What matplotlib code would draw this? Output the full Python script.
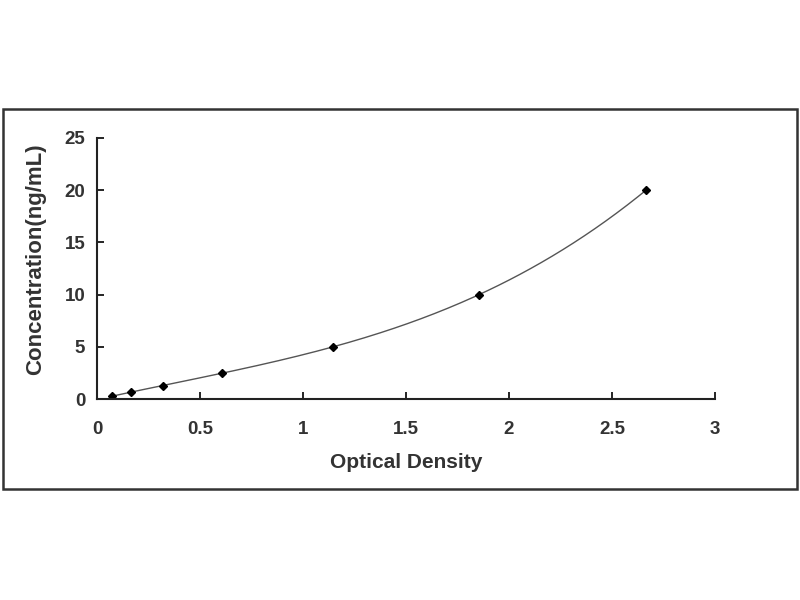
import numpy as np
import matplotlib
matplotlib.use("Agg")
import matplotlib.pyplot as plt
from matplotlib.patches import Rectangle

od = [0.075, 0.163, 0.318, 0.605, 1.148, 1.855, 2.665]
conc = [0.312, 0.625, 1.25, 2.5, 5, 10, 20]
xticks = [0, 0.5, 1, 1.5, 2, 2.5, 3]
xticklabels = ["0", "0.5", "1", "1.5", "2", "2.5", "3"]
yticks = [0, 5, 10, 15, 20, 25]
yticklabels = ["0", "5", "10", "15", "20", "25"]

plt.rcParams['font.family'] = ['Liberation Sans', 'DejaVu Sans']

fig = plt.figure(figsize=(8, 6), dpi=100)
fig.patch.set_facecolor("white")

# outer frame
fig.add_artist(Rectangle((3/800, 1-489/600), 794/800, 380/600, transform=fig.transFigure,
                         fill=False, edgecolor="#333333", linewidth=1.8))

ax = fig.add_axes([97/800, 1-399/600, 618/800, 261/600])
ax.set_xlim(0, 3)
ax.set_ylim(0, 25)

coef = np.polyfit(od, conc, 3)
xs = np.linspace(min(od), max(od), 200)
ax.plot(xs, np.polyval(coef, xs), color="#555555", linewidth=1.0)
ax.plot(od, conc, linestyle="none", marker="D", markersize=4, color="black")

for s in ["top", "right"]:
    ax.spines[s].set_visible(False)
for s in ["left", "bottom"]:
    ax.spines[s].set_linewidth(1.5)
    ax.spines[s].set_color("#222222")

ax.set_xticks(xticks)
ax.set_xticklabels(xticklabels, fontweight="bold", fontsize=13.5, color="#333333")
ax.set_yticks(yticks)
ax.set_yticklabels(yticklabels, fontweight="bold", fontsize=13.5, color="#333333")
ax.tick_params(direction="in", length=5, width=1.2)
ax.tick_params(axis="x", pad=16)
ax.tick_params(axis="y", pad=8.5)
ax.set_xlabel("Optical Density", fontweight="bold", fontsize=15, color="#333333", labelpad=11)
ax.set_ylabel("Concentration(ng/mL)", fontweight="bold", fontsize=16, color="#333333")
ax.yaxis.set_label_coords(-0.083, 0.535)

fig.savefig("out.png", dpi=100, facecolor="white")
